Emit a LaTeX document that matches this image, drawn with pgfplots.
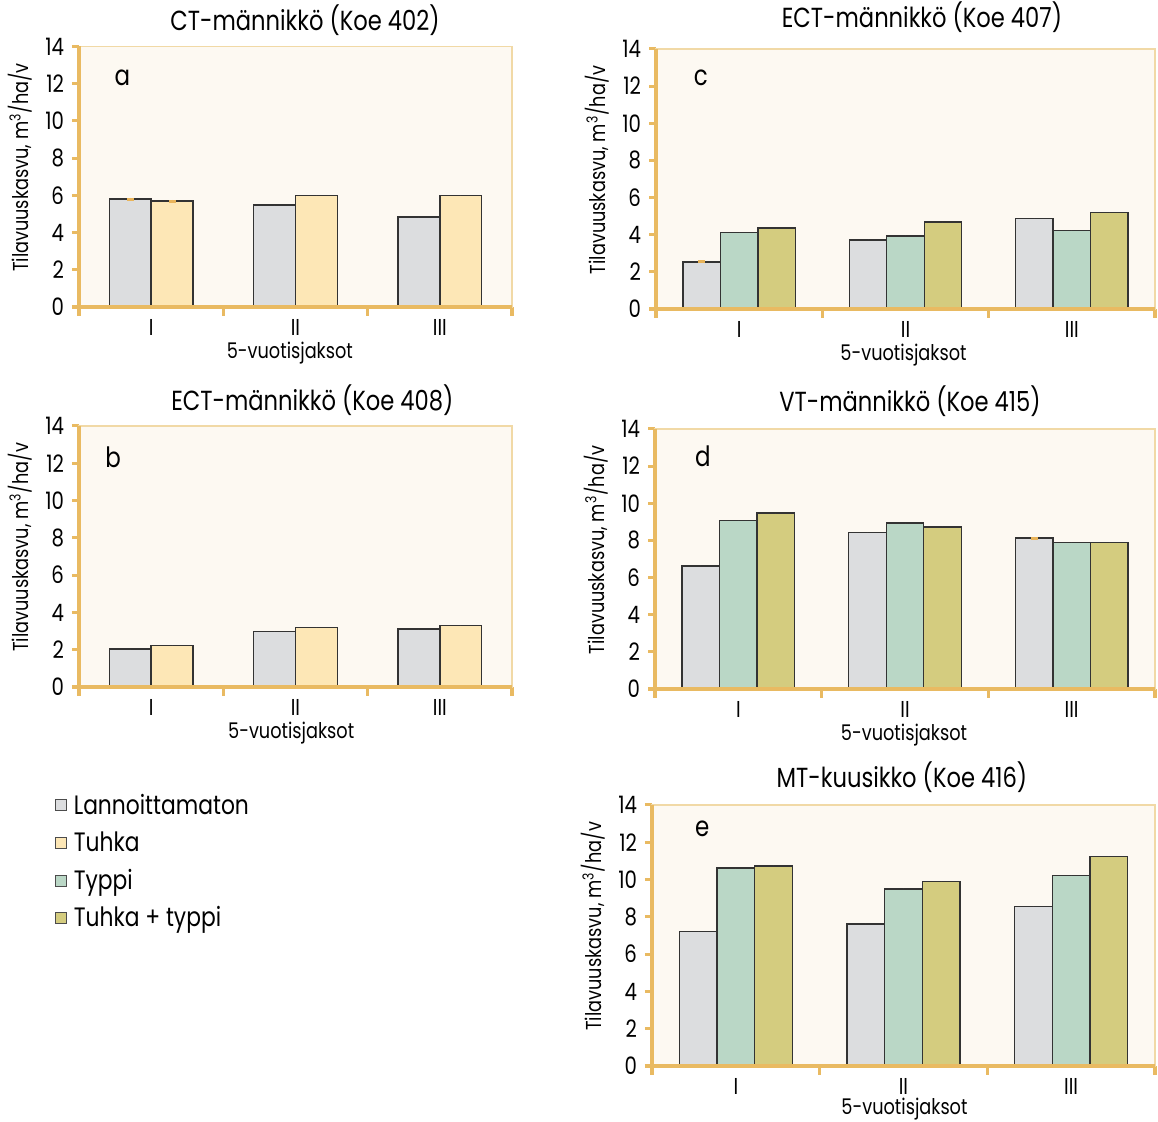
\documentclass[border=0pt]{standalone}
\usepackage{pgfplots}
\pgfplotsset{compat=1.18}
\usepackage{fontspec}
\setmainfont{Poppins}[FakeStretch=0.82]
\definecolor{cgrey}{HTML}{DCDDDF}
\definecolor{ctan}{HTML}{FDE7B6}
\definecolor{cgreen}{HTML}{BAD7C6}
\definecolor{colive}{HTML}{D4CC7F}
\definecolor{bgc}{HTML}{FDF9F2}
\definecolor{axo}{HTML}{E9BA62}
\definecolor{framec}{HTML}{F1D9A6}
\definecolor{errc}{HTML}{E9B45A}
\pgfplotsset{
  panel/.style={
    scale only axis, clip=false, ybar,
    axis background/.style={fill=bgc},
    axis line style={draw=framec, line width=0.6pt},
    ymin=0, ymax=14, ytick={0,2,...,14},
    xmin=-0.5, xmax=2.5,
    xtick={0,1,2}, xticklabels={I,II,III},
    minor xtick={-0.5,0.5,1.5,2.5},
    xtick pos=bottom, ytick pos=left, tick align=outside,
    major tick length=3.5pt, minor tick length=4.5pt,
    major x tick style={draw=none},
    minor x tick style={draw=axo, line width=1.6pt},
    major y tick style={draw=axo, line width=1.5pt},
    /pgf/number format/assume math mode=true,
    yticklabel style={font=\fontsize{12}{13}\selectfont, xshift=-0.5pt},
    xticklabel style={font=\fontsize{11.5}{12}\selectfont, anchor=base, yshift=-11pt},
    ylabel={Tilavuuskasvu, m\textsuperscript{3}/ha/v},
    xlabel={5-vuotisjaksot},
    label style={font=\fontsize{10.8}{12}\selectfont},
    title style={font=\fontsize{13.8}{15}\selectfont, anchor=base},
    every axis plot/.append style={draw=black!80, line width=0.7pt},
    error bars/y dir=both, error bars/y explicit,
    error bars/error mark=none,
    error bars/error bar style={draw=errc, line width=3.5pt, line cap=butt},
  },
  two/.style={bar width=0.29},
  three/.style={bar width=0.225},
}
\newcommand{\decor}[1]{%
  \draw[axo, line width=1.7pt] ([xshift=-3.5pt]rel axis cs:0,0) -- (rel axis cs:1,0);
  \draw[axo, line width=1.6pt] (rel axis cs:0,0) -- (rel axis cs:0,1);
  \node[font=\fontsize{14}{15}\selectfont] at #1;
}
\begin{document}
\begin{tikzpicture}
\useasboundingbox (0,0) rectangle (579pt,561pt);
% Panel a
\begin{axis}[panel, two, at={(39.5pt,407.5pt)}, anchor=south west,
  width=216.5pt, height=130.25pt,
  title={CT-männikkö (Koe 402)},
  title style={at={(axis description cs:0.522,1)}, yshift=2pt},
  ylabel style={at={(axis description cs:-0.136,0.535)}, anchor=center},
  xlabel style={at={(axis description cs:0.487,0)}, anchor=base, yshift=-26pt}]
\addplot[fill=cgrey, bar shift=-0.145] coordinates {(0,5.80) +- (0,0.08) (1,5.48) +- (0,0) (2,4.83) +- (0,0)};
\addplot[fill=ctan, bar shift=0.145] coordinates {(0,5.69) +- (0,0.08) (1,6.00) +- (0,0) (2,6.00) +- (0,0)};
\decor{(rel axis cs:0.10,0.88) {a}}
\end{axis}
% Panel b
\begin{axis}[panel, two, at={(39.5pt,217.5pt)}, anchor=south west,
  width=216.5pt, height=130.5pt,
  title={ECT-männikkö (Koe 408)},
  title style={at={(axis description cs:0.539,1)}, yshift=1.5pt},
  ylabel style={at={(axis description cs:-0.136,0.535)}, anchor=center},
  xlabel style={at={(axis description cs:0.49,0)}, anchor=base, yshift=-26pt}]
\addplot[fill=cgrey, bar shift=-0.145] coordinates {(0,2.03) +- (0,0) (1,2.98) +- (0,0) (2,3.10) +- (0,0)};
\addplot[fill=ctan, bar shift=0.145] coordinates {(0,2.23) +- (0,0) (1,3.19) +- (0,0) (2,3.30) +- (0,0)};
\decor{(rel axis cs:0.079,0.88) {b}}
\end{axis}
% Panel c
\begin{axis}[panel, three, at={(328pt,406.5pt)}, anchor=south west,
  width=249.5pt, height=130pt,
  title={ECT-männikkö (Koe 407)},
  title style={at={(axis description cs:0.533,1)}, yshift=4.5pt},
  ylabel style={at={(axis description cs:-0.118,0.535)}, anchor=center},
  xlabel style={at={(axis description cs:0.496,0)}, anchor=base, yshift=-26pt}]
\addplot[fill=cgrey, bar shift=-0.225] coordinates {(0,2.54) +- (0,0.08) (1,3.72) +- (0,0) (2,4.88) +- (0,0)};
\addplot[fill=cgreen, bar shift=0] coordinates {(0,4.13) +- (0,0) (1,3.94) +- (0,0) (2,4.24) +- (0,0)};
\addplot[fill=colive, bar shift=0.225] coordinates {(0,4.35) +- (0,0) (1,4.68) +- (0,0) (2,5.19) +- (0,0)};
\decor{(rel axis cs:0.09,0.89) {c}}
\end{axis}
% Panel d
\begin{axis}[panel, three, at={(327.5pt,216.5pt)}, anchor=south west,
  width=250pt, height=130pt,
  title={VT-männikkö (Koe 415)},
  title style={at={(axis description cs:0.51,1)}, yshift=2.5pt},
  ylabel style={at={(axis description cs:-0.118,0.535)}, anchor=center},
  xlabel style={at={(axis description cs:0.498,0)}, anchor=base, yshift=-26pt}]
\addplot[fill=cgrey, bar shift=-0.225] coordinates {(0,6.63) +- (0,0) (1,8.41) +- (0,0) (2,8.12) +- (0,0.08)};
\addplot[fill=cgreen, bar shift=0] coordinates {(0,9.06) +- (0,0) (1,8.93) +- (0,0) (2,7.89) +- (0,0)};
\addplot[fill=colive, bar shift=0.225] coordinates {(0,9.47) +- (0,0) (1,8.73) +- (0,0) (2,7.89) +- (0,0)};
\decor{(rel axis cs:0.096,0.896) {d}}
\end{axis}
% Panel e
\begin{axis}[panel, three, at={(326pt,28pt)}, anchor=south west,
  width=251.5pt, height=130.5pt,
  title={MT-kuusikko (Koe 416)},
  title style={at={(axis description cs:0.497,1)}, yshift=2.5pt},
  ylabel style={at={(axis description cs:-0.117,0.535)}, anchor=center},
  xlabel style={at={(axis description cs:0.502,0)}, anchor=base, yshift=-24.5pt},
  legend image code/.code={\draw[#1] (0pt,-2.75pt) rectangle (5.5pt,2.75pt); \path (7.5pt,0pt);},
  legend style={at={(axis description cs:-1.188,1.056)}, anchor=north west,
    draw=none, fill=none, inner sep=0pt, row sep=4.3pt,
    font=\fontsize{13.3}{15}\selectfont,
    nodes={inner sep=1.5pt}},
  legend cell align=left]
\addlegendimage{draw=black!70, line width=0.5pt, fill=cgrey}
\addlegendimage{draw=black!70, line width=0.5pt, fill=ctan}
\addlegendimage{draw=black!70, line width=0.5pt, fill=cgreen}
\addlegendimage{draw=black!70, line width=0.5pt, fill=colive}
\legend{Lannoittamaton, Tuhka, Typpi, Tuhka + typpi}
\addplot[fill=cgrey, bar shift=-0.225] coordinates {(0,7.21) +- (0,0) (1,7.62) +- (0,0) (2,8.56) +- (0,0)};
\addplot[fill=cgreen, bar shift=0] coordinates {(0,10.62) +- (0,0) (1,9.50) +- (0,0) (2,10.21) +- (0,0)};
\addplot[fill=colive, bar shift=0.225] coordinates {(0,10.73) +- (0,0) (1,9.91) +- (0,0) (2,11.24) +- (0,0)};
\decor{(rel axis cs:0.10,0.908) {e}}
\end{axis}
\end{tikzpicture}
\end{document}
